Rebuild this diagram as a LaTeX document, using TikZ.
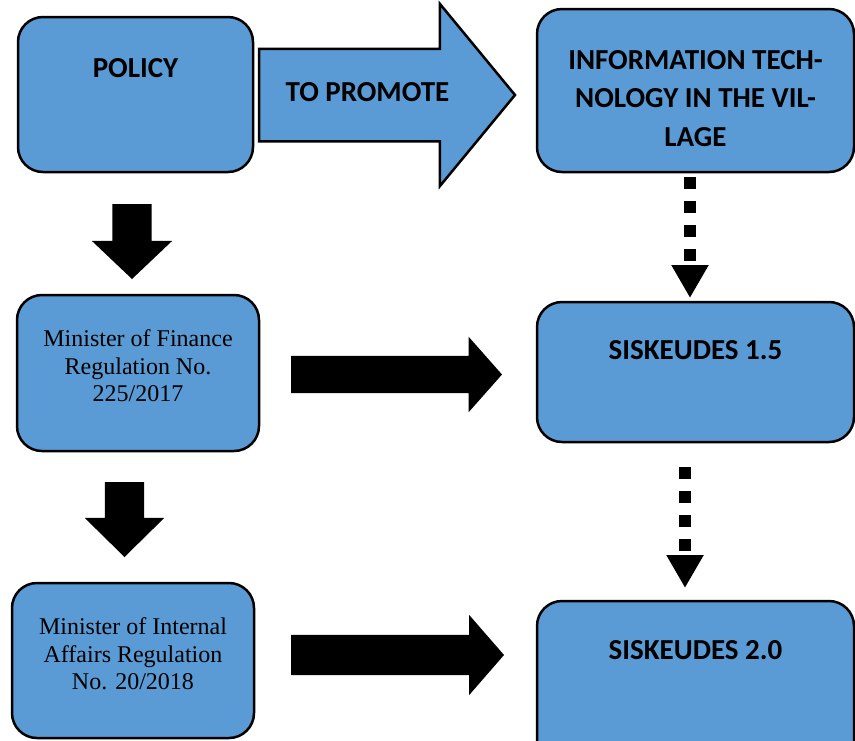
\documentclass[tikz,border=0pt]{standalone}
\usepackage{fontspec}
\setmainfont{Liberation Serif}
\newfontfamily\calibri{Carlito}
\usetikzlibrary{shapes.arrows,arrows.meta}
\definecolor{boxblue}{HTML}{5B9BD5}

\begin{document}
\begin{tikzpicture}[x=1pt,y=-1pt,
    box/.style={draw=black, line width=2.5pt, fill=boxblue, rounded corners=25pt,
        outer sep=0pt, inner sep=0pt},
    capstext/.style={font=\calibri\bfseries\fontsize{29}{38.5}\selectfont,
        align=center, inner sep=0pt, anchor=north},
    regtext/.style={font=\fontsize{24}{27.5}\selectfont,
        align=center, inner sep=0pt, anchor=north},
    blockarrow/.style={single arrow, fill=black, outer sep=0pt,
        single arrow head indent=0pt, anchor=tail},
    dots/.style={line width=12pt, dash pattern=on 12pt off 12pt,
        -{Triangle[length=33pt,width=35pt]}}]
    \useasboundingbox (0,0) rectangle (855,740);

    \node[box, minimum width=235pt, minimum height=155pt,
        label={[capstext, yshift=-41pt]north:POLICY}] (policy) at (135.5,94.5) {};
    \node[box, minimum width=317pt, minimum height=163pt,
        label={[capstext, yshift=-41pt]north:{INFORMATION TECH-\\NOLOGY IN THE VIL-\\LAGE}}]
        (infotech) at (695.5,90.5) {};
    \node[box, minimum width=242pt, minimum height=156pt,
        label={[regtext, yshift=-34.5pt]north:{Minister of Finance\\Regulation No.\\225/2017}}]
        (finance) at (138,373) {};
    \node[box, minimum width=317pt, minimum height=140pt,
        label={[capstext, yshift=-38pt]north:SISKEUDES 1.5}] (sisk15) at (695.5,372) {};
    \node[box, minimum width=242pt, minimum height=155pt,
        label={[regtext, yshift=-34.5pt]north:{Minister of Internal\\Affairs Regulation\\No. 20/2018}}]
        (internal) at (133,660.5) {};
    \node[box, minimum width=317pt, minimum height=168pt,
        label={[capstext, yshift=-39pt]north:SISKEUDES 2.0}] (sisk20) at (695.5,685) {};

    \node[blockarrow, fill=boxblue, draw=black, line width=2.5pt, inner xsep=0pt,
        inner ysep=45pt, single arrow head extend=45pt, single arrow tip angle=101,
        minimum height=256pt] (promote) at (259,95) {};
    \node[capstext, anchor=base] (promote-txt) at (367.5,101) {TO PROMOTE};

    \node[blockarrow, inner xsep=19.5pt, inner ysep=0pt, single arrow head extend=20.5pt,
        single arrow tip angle=93, minimum height=75pt, shape border rotate=270]
        (down1) at (132,204) {};
    \node[blockarrow, inner xsep=19.5pt, inner ysep=0pt, single arrow head extend=20pt,
        single arrow tip angle=91, minimum height=75pt, shape border rotate=270]
        (down2) at (124.5,482) {};
    \node[blockarrow, inner xsep=0pt, inner ysep=18.5pt, single arrow head extend=19pt,
        single arrow tip angle=97, minimum height=211pt] (right1) at (291,374.5) {};
    \node[blockarrow, inner xsep=0pt, inner ysep=20pt, single arrow head extend=20pt,
        single arrow tip angle=98, minimum height=213pt] (right2) at (291,655) {};

    \draw[dots, shorten <=5pt, shorten >=4pt]
        ([xshift=-5.5pt]infotech.south) -- ([xshift=-5.5pt]sisk15.north);
    \draw[dots, shorten <=25pt, shorten >=13pt]
        ([xshift=-10.5pt]sisk15.south) -- ([xshift=-10.5pt]sisk20.north);
\end{tikzpicture}
\end{document}
